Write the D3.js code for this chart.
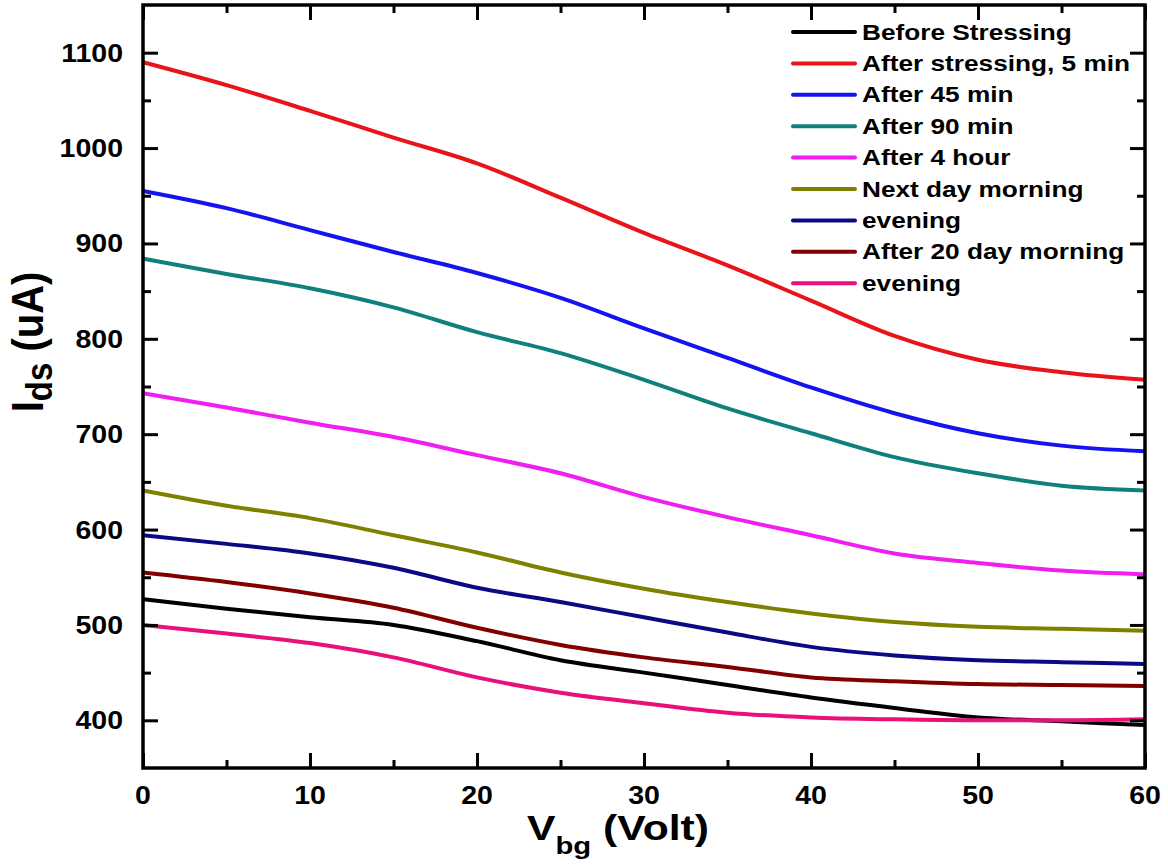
<!DOCTYPE html>
<html>
<head>
<meta charset="utf-8">
<script src="https://cdn.jsdelivr.net/npm/d3@7"></script>
<style>
  body { margin: 0; background: #fff; }
  text { font-family: "Liberation Sans", Arial, sans-serif; font-weight: bold; fill: #000; }
</style>
</head>
<body>
<svg width="1168" height="865"></svg>
<script>
// back gate voltage, every 5 V
const vbg = [0, 5, 10, 15, 20, 25, 30, 35, 40, 45, 50, 55, 60];

// drain current (uA)
const beforeStress = [527, 517, 508, 500, 483, 463, 450, 437, 424, 413, 403, 399, 395];
const after5min    = [1090, 1066, 1039, 1011, 984, 948, 911, 877, 840, 803, 778, 765, 757];
const after45min   = [955, 937, 914, 891, 869, 843, 811, 780, 749, 722, 701, 688, 682];
const after90min   = [884, 868, 853, 833, 807, 785, 757, 727, 701, 676, 659, 646, 641];
const after4hour   = [743, 728, 712, 697, 678, 659, 634, 613, 594, 575, 565, 557, 553];
const nextMorning  = [641, 625, 612, 594, 576, 555, 538, 524, 512, 503, 498, 496, 494];
const nextEvening  = [594, 585, 575, 560, 539, 524, 508, 492, 477, 468, 463, 461, 459];
const day20Morning = [555, 545, 533, 518, 497, 479, 466, 456, 445, 441, 438, 437, 436];
const day20Evening = [500, 491, 481, 466, 445, 429, 418, 408, 403, 401, 400, 400, 401];

const seriesNames = ['Before Stressing', 'After stressing, 5 min', 'After 45 min', 'After 90 min',
  'After 4 hour', 'Next day morning', 'evening', 'After 20 day morning', 'evening'];
const seriesValues = [beforeStress, after5min, after45min, after90min, after4hour,
  nextMorning, nextEvening, day20Morning, day20Evening];
const colors = ['#000000', '#e8141a', '#1414f0', '#0f807b', '#f01ef0',
  '#808000', '#0a0a84', '#800000', '#e8107a'];

const xMajor = [0, 10, 20, 30, 40, 50, 60];
const yMajor = [400, 500, 600, 700, 800, 900, 1000, 1100];

const svg = d3.select('svg');
// plot frame in pixels
const plotL = 143, plotR = 1145, plotT = 5, plotB = 768;

const x = d3.scaleLinear().domain([0, 60]).range([plotL, plotR]);
const y = d3.scaleLinear().domain([350, 1150]).range([plotB, plotT]);

// curves
const line = d3.line()
  .x(d => x(d[0]))
  .y(d => y(d[1]))
  .curve(d3.curveMonotoneX);

seriesValues.forEach((vals, i) => {
  svg.append('path')
    .datum(vbg.map((v, j) => [v, vals[j]]))
    .attr('d', line)
    .attr('fill', 'none')
    .attr('stroke', colors[i])
    .attr('stroke-width', 4)
    .attr('stroke-linejoin', 'round');
});

// axes: ticks pointing inward, labels drawn separately
const minorX = d3.range(5, 60, 10);
const minorY = d3.range(450, 1150, 100);
const addAxis = (axisFn, scale, vals, size, tr) => {
  const g = svg.append('g')
    .attr('transform', tr)
    .call(axisFn(scale).tickValues(vals).tickSize(-size).tickFormat(''));
  g.select('.domain').remove();
  g.selectAll('line').attr('stroke', '#000').attr('stroke-width', 3);
};
addAxis(d3.axisBottom, x, xMajor, 15, `translate(0,${plotB})`);
addAxis(d3.axisBottom, x, minorX, 8, `translate(0,${plotB})`);
addAxis(d3.axisTop, x, xMajor, 15, `translate(0,${plotT})`);
addAxis(d3.axisTop, x, minorX, 8, `translate(0,${plotT})`);
addAxis(d3.axisLeft, y, yMajor, 15, `translate(${plotL},0)`);
addAxis(d3.axisLeft, y, minorY, 8, `translate(${plotL},0)`);
addAxis(d3.axisRight, y, yMajor, 15, `translate(${plotR},0)`);
addAxis(d3.axisRight, y, minorY, 8, `translate(${plotR},0)`);

svg.append('rect')
  .attr('x', plotL).attr('y', plotT)
  .attr('width', plotR - plotL).attr('height', plotB - plotT)
  .attr('fill', 'none').attr('stroke', '#000').attr('stroke-width', 3.5);

// tick labels
yMajor.forEach(v => {
  svg.append('text')
    .attr('transform', `translate(123,${y(v) + 9}) scale(1.14,1)`)
    .attr('text-anchor', 'end')
    .style('font-size', '25px')
    .text(v);
});
xMajor.forEach(v => {
  svg.append('text')
    .attr('transform', `translate(${x(v)},804) scale(1.14,1)`)
    .attr('text-anchor', 'middle')
    .style('font-size', '25px')
    .text(v);
});

// axis titles
const xt = svg.append('text')
  .attr('transform', 'translate(527,840) scale(1.22,1)')
  .style('font-size', '35px');
xt.append('tspan').text('V');
xt.append('tspan').attr('dy', 14).style('font-size', '24px').text('bg');
xt.append('tspan').attr('dy', -14).text(' (Volt)');

const yt = svg.append('text')
  .attr('transform', 'translate(43,342) scale(1.12,1) rotate(-90)')
  .attr('text-anchor', 'middle')
  .style('font-size', '40px');
yt.append('tspan').text('I');
yt.append('tspan').attr('dy', 8).style('font-size', '33px').text('ds');
yt.append('tspan').attr('dy', -8).text(' (uA)');

// legend
const legend = svg.append('g');
seriesNames.forEach((name, i) => {
  const cy = 32 + i * 31.4;
  legend.append('line')
    .attr('x1', 793).attr('x2', 855)
    .attr('y1', cy).attr('y2', cy)
    .attr('stroke', colors[i]).attr('stroke-width', 4)
    .attr('stroke-linecap', 'round');
  legend.append('text')
    .attr('transform', `translate(862,${cy + 7.5}) scale(1.22,1)`)
    .style('font-size', '21.5px')
    .text(name);
});
</script>
</body>
</html>
